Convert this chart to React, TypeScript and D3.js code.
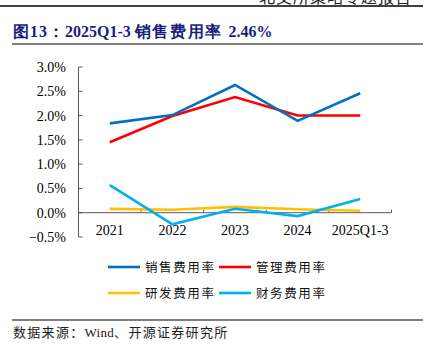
import * as d3 from "d3";

const categories = ["2021", "2022", "2023", "2024", "2025Q1-3"];
const sales = [1.84, 2.01, 2.63, 1.89, 2.46];
const admin = [1.45, 1.99, 2.38, 2.0, 2.0];
const rnd = [0.08, 0.06, 0.12, 0.07, 0.04];
const finance = [0.57, -0.24, 0.08, -0.07, 0.28];
const yTicks = [-0.5, 0, 0.5, 1.0, 1.5, 2.0, 2.5, 3.0];

const seriesNames = ["销售费用率", "管理费用率", "研发费用率", "财务费用率"];
const seriesColors = ["#0070C0", "#FF0000", "#FFC000", "#00B0F0"];

const serif = "'Liberation Serif', 'Times New Roman', serif";
const song = "'Noto Sans CJK SC', sans-serif";

export default function App() {
  const width = 430;
  const height = 354;
  const left = 78.5;
  const right = 391.5;

  const x = d3.scaleBand().domain(categories).range([left, right]);
  const y = d3.scaleLinear().domain([-0.5, 3.0]).range([237, 67]);

  const all = [sales, admin, rnd, finance];
  const line = d3
    .line<number>()
    .x((_, i) => (x(categories[i]) ?? 0) + x.bandwidth() / 2)
    .y((d) => y(d));

  const boundaries = categories.map((c) => (x(c) ?? 0) + x.bandwidth());

  return (
    <svg
      width={width}
      height={height}
      viewBox={`0 0 ${width} ${height}`}
      style={{ position: "fixed", left: 0, top: 0, background: "#fff" }}
    >
      {/* page header, only its lower edge shows */}
      <text
        x={412}
        y={3}
        textAnchor="end"
        fontFamily={song}
        fontSize={16}
        fill="#222"
        letterSpacing={1}
      >
        北交所策略专题报告
      </text>
      <line x1={0} x2={423} y1={6} y2={6} stroke="#000" strokeWidth={1.5} />

      {/* title */}
      <text x={13} y={37} fontFamily={serif} fontWeight="bold" fontSize={16} fill="#1C1C80">
        <tspan letterSpacing={1}>图13：</tspan>
        <tspan>2025Q1-3 </tspan>
        <tspan letterSpacing={1.6}>销售费用率 </tspan>
        <tspan>2.46%</tspan>
      </text>
      <line x1={12} x2={423} y1={44} y2={44} stroke="#808080" strokeWidth={2} />

      {/* y axis */}
      <line x1={left} x2={left} y1={y(3.0)} y2={y(-0.5)} stroke="#595959" strokeWidth={1} />
      {yTicks.map((t) => (
        <g key={t}>
          <line x1={left} x2={left + 4} y1={y(t)} y2={y(t)} stroke="#595959" />
          <text x={66} y={y(t) + 5} textAnchor="end" fontFamily={serif} fontSize={14} fill="#000">
            {d3.format(".1f")(t)}%
          </text>
        </g>
      ))}

      {/* x axis at zero */}
      <line x1={left} x2={right} y1={y(0)} y2={y(0)} stroke="#595959" strokeWidth={1} />
      {boundaries.map((b, i) => (
        <line key={i} x1={b} x2={b} y1={y(0)} y2={y(0) - 3} stroke="#595959" />
      ))}
      {categories.map((c) => (
        <text
          key={c}
          x={(x(c) ?? 0) + x.bandwidth() / 2}
          y={235}
          textAnchor="middle"
          fontFamily={serif}
          fontSize={14}
          fill="#000"
        >
          {c}
        </text>
      ))}

      {/* series: yellow under light blue */}
      {[2, 3, 1, 0].map((k) => (
        <path
          key={k}
          d={line(all[k]) ?? ""}
          fill="none"
          stroke={seriesColors[k]}
          strokeWidth={2.6}
        />
      ))}

      {/* legend */}
      {seriesNames.map((name, i) => {
        const lx = i % 2 === 0 ? 108 : 219;
        const ly = i < 2 ? 267 : 293;
        return (
          <g key={name}>
            <line x1={lx} x2={lx + 32} y1={ly} y2={ly} stroke={seriesColors[i]} strokeWidth={2.6} />
            <text
              x={lx + 37}
              y={ly + 4.5}
              fontFamily={song}
              fontSize={12.5}
              letterSpacing={1.6}
              fill="#111"
            >
              {name}
            </text>
          </g>
        );
      })}

      {/* source */}
      <line x1={12} x2={423} y1={320} y2={320} stroke="#000" strokeWidth={1} />
      <text x={13} y={337} fontFamily={song} fontSize={13} fill="#222" letterSpacing={1.3}>
        数据来源：
        <tspan fontFamily={serif} letterSpacing={0.3}>Wind</tspan>、开源证券研究所
      </text>
    </svg>
  );
}
